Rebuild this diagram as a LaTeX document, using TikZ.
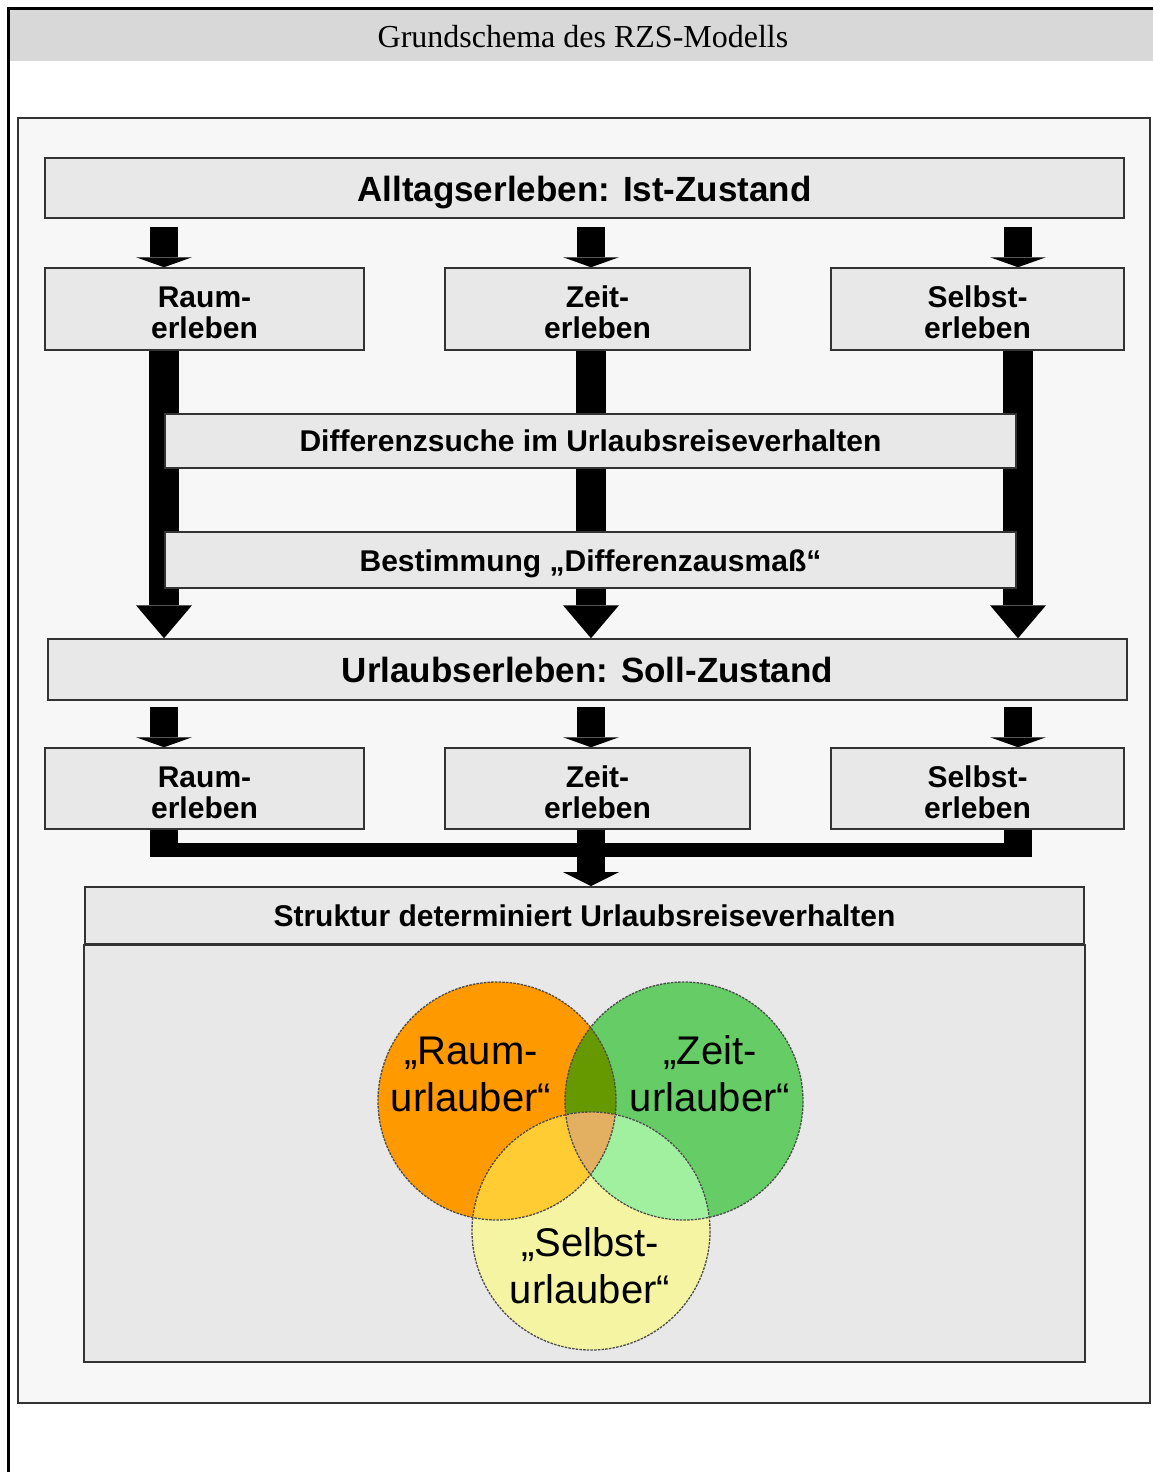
\documentclass[tikz,border=0pt]{standalone}
\usepackage{fontspec}
\setmainfont{Liberation Serif}
\newfontfamily\arial{Liberation Sans}
\usepackage{xcolor}
\usepackage{tikz}
\usetikzlibrary{arrows.meta}

\pgfdeclarelayer{back}
\pgfdeclarelayer{mid}
\pgfsetlayers{back,mid,main}

\definecolor{paneel}{HTML}{F7F7F7}
\definecolor{kasten}{HTML}{E8E8E8}
\definecolor{kopf}{HTML}{D8D8D8}
\definecolor{rahmen}{HTML}{333333}
\definecolor{raumc}{HTML}{FF9900}
\definecolor{zeitc}{HTML}{66CC66}
\definecolor{selbstc}{HTML}{F4F4A2}
\definecolor{rzc}{HTML}{669900}
\definecolor{rsc}{HTML}{FFCC33}
\definecolor{zsc}{HTML}{A0F0A0}
\definecolor{rzsc}{HTML}{E3B062}

\begin{document}
\begin{tikzpicture}[x=1pt,y=-1pt,
  box/.style={draw=rahmen, line width=1.5pt, fill=kasten, inner sep=0pt, align=center,
    font=\arial\bfseries\fontsize{30}{31}\selectfont},
  bigbox/.style={box, font=\arial\bfseries\fontsize{35}{36}\selectfont},
  zwei/.style={text height=59pt, text depth=0pt},
  shortarrow/.style={line width=28pt, -{Triangle[length=10pt,width=56pt,line width=0pt]}},
  longarrow/.style={line width=30pt, -{Triangle[length=33pt,width=56pt,line width=0pt]}},
  busarrow/.style={line width=28pt, -{Triangle[length=14pt,width=56pt,line width=0pt]}},
  vennline/.style={draw=black!70, line width=1.3pt, dash pattern=on 2.5pt off 1.2pt},
  venntext/.style={align=center, font=\arial\fontsize{40}{47}\selectfont}]

  \useasboundingbox (0,0) rectangle (1153,1472);

  % page, title bar and panel
  \begin{pgfonlayer}{back}
    \fill[white] (0,0) rectangle (1153,1472);
    \fill[kopf] (10,10) rectangle (1153,61.5);
    \draw[line width=3pt] (8,1472) -- (8,8.5) -- (1153,8.5);
    \filldraw[fill=paneel, draw=rahmen, line width=2pt] (18,118) rectangle (1150,1403);
  \end{pgfonlayer}
  \node (titel) at (583,37) {\fontsize{32}{34}\selectfont Grundschema des RZS-Modells};

  % arrow columns
  \coordinate (c1) at (164,0);
  \coordinate (c2) at (591,0);
  \coordinate (c3) at (1018,0);

  \node[bigbox, text height=26pt, text depth=0pt, minimum width=1079pt, minimum height=60pt] (alltag) at (584.5,188) {Alltagserleben: Ist-Zustand};
  \node[box, zwei, minimum width=319pt, minimum height=82pt] (raum1) at (204.5,309) {Raum-\\erleben};
  \node[box, zwei, minimum width=305pt, minimum height=82pt] (zeit1) at (597.5,309) {Zeit-\\erleben};
  \node[box, zwei, minimum width=293pt, minimum height=82pt] (selbst1) at (977.5,309) {Selbst-\\erleben};

  \node[box, minimum width=851pt, minimum height=54pt] (diff) at (590.5,441) {Differenzsuche im Urlaubsreiseverhalten};
  \node[box, text height=22pt, text depth=0pt, minimum width=851pt, minimum height=56pt] (mass) at (590.5,560) {Bestimmung „Differenzausmaß“};

  \node[bigbox, minimum width=1079pt, minimum height=61pt] (urlaub) at (587.5,669.5) {Urlaubserleben: Soll-Zustand};
  \node[box, zwei, minimum width=319pt, minimum height=81pt] (raum2) at (204.5,788.5) {Raum-\\erleben};
  \node[box, zwei, minimum width=305pt, minimum height=81pt] (zeit2) at (597.5,788.5) {Zeit-\\erleben};
  \node[box, zwei, minimum width=293pt, minimum height=81pt] (selbst2) at (977.5,788.5) {Selbst-\\erleben};

  \node[box, line width=2pt, minimum width=999pt, minimum height=57pt] (struktur) at (584.5,915.5) {Struktur determiniert Urlaubsreiseverhalten};
  \coordinate (sboden) at (0,1362);
  \filldraw[fill=kasten, draw=rahmen, line width=2pt] (struktur.south west) rectangle (struktur.east |- sboden);

  % block arrows behind the boxes
  \begin{pgfonlayer}{mid}
    \foreach \k/\a/\b in {1/raum1/raum2, 2/zeit1/zeit2, 3/selbst1/selbst2} {
      \draw[shortarrow] ([yshift=-8pt]alltag.south -| c\k) -- (\a.north -| c\k);
      \draw[longarrow] (\a.south -| c\k) -- (urlaub.north -| c\k);
      \draw[shortarrow] ([yshift=-6pt]urlaub.south -| c\k) -- (\b.north -| c\k);
    }
    \coordinate (busmid) at (0,850);
    \coordinate (busbot) at (0,857);
    \foreach \k/\b in {1/raum2, 3/selbst2}
      \draw[line width=28pt] (\b.south -| c\k) -- (busbot -| c\k);
    \draw[line width=14pt] (busmid -| c1) -- (busmid -| c3);
    \draw[busarrow] (zeit2.south -| c2) -- (struktur.north -| c2);
  \end{pgfonlayer}

  % the three types
  \coordinate (rc) at (497,1101);
  \coordinate (zc) at (684,1101);
  \coordinate (sc) at (591,1231);
  \fill[raumc] (rc) circle[radius=119];
  \fill[zeitc] (zc) circle[radius=119];
  \fill[selbstc] (sc) circle[radius=119];
  \begin{scope}
    \clip (rc) circle[radius=119];
    \fill[rzc] (zc) circle[radius=119];
    \fill[rsc] (sc) circle[radius=119];
  \end{scope}
  \begin{scope}
    \clip (zc) circle[radius=119];
    \fill[zsc] (sc) circle[radius=119];
  \end{scope}
  \begin{scope}
    \clip (rc) circle[radius=119];
    \clip (zc) circle[radius=119];
    \fill[rzsc] (sc) circle[radius=119];
  \end{scope}
  \foreach \c in {rc,zc,sc}
    \draw[vennline] (\c) circle[radius=119];

  \node[venntext] (raumtyp) at (471,1074) {„Raum-\\urlauber“};
  \node[venntext] (zeittyp) at (710,1074) {„Zeit-\\urlauber“};
  \node[venntext] (selbsttyp) at (590,1266) {„Selbst-\\urlauber“};
\end{tikzpicture}
\end{document}
